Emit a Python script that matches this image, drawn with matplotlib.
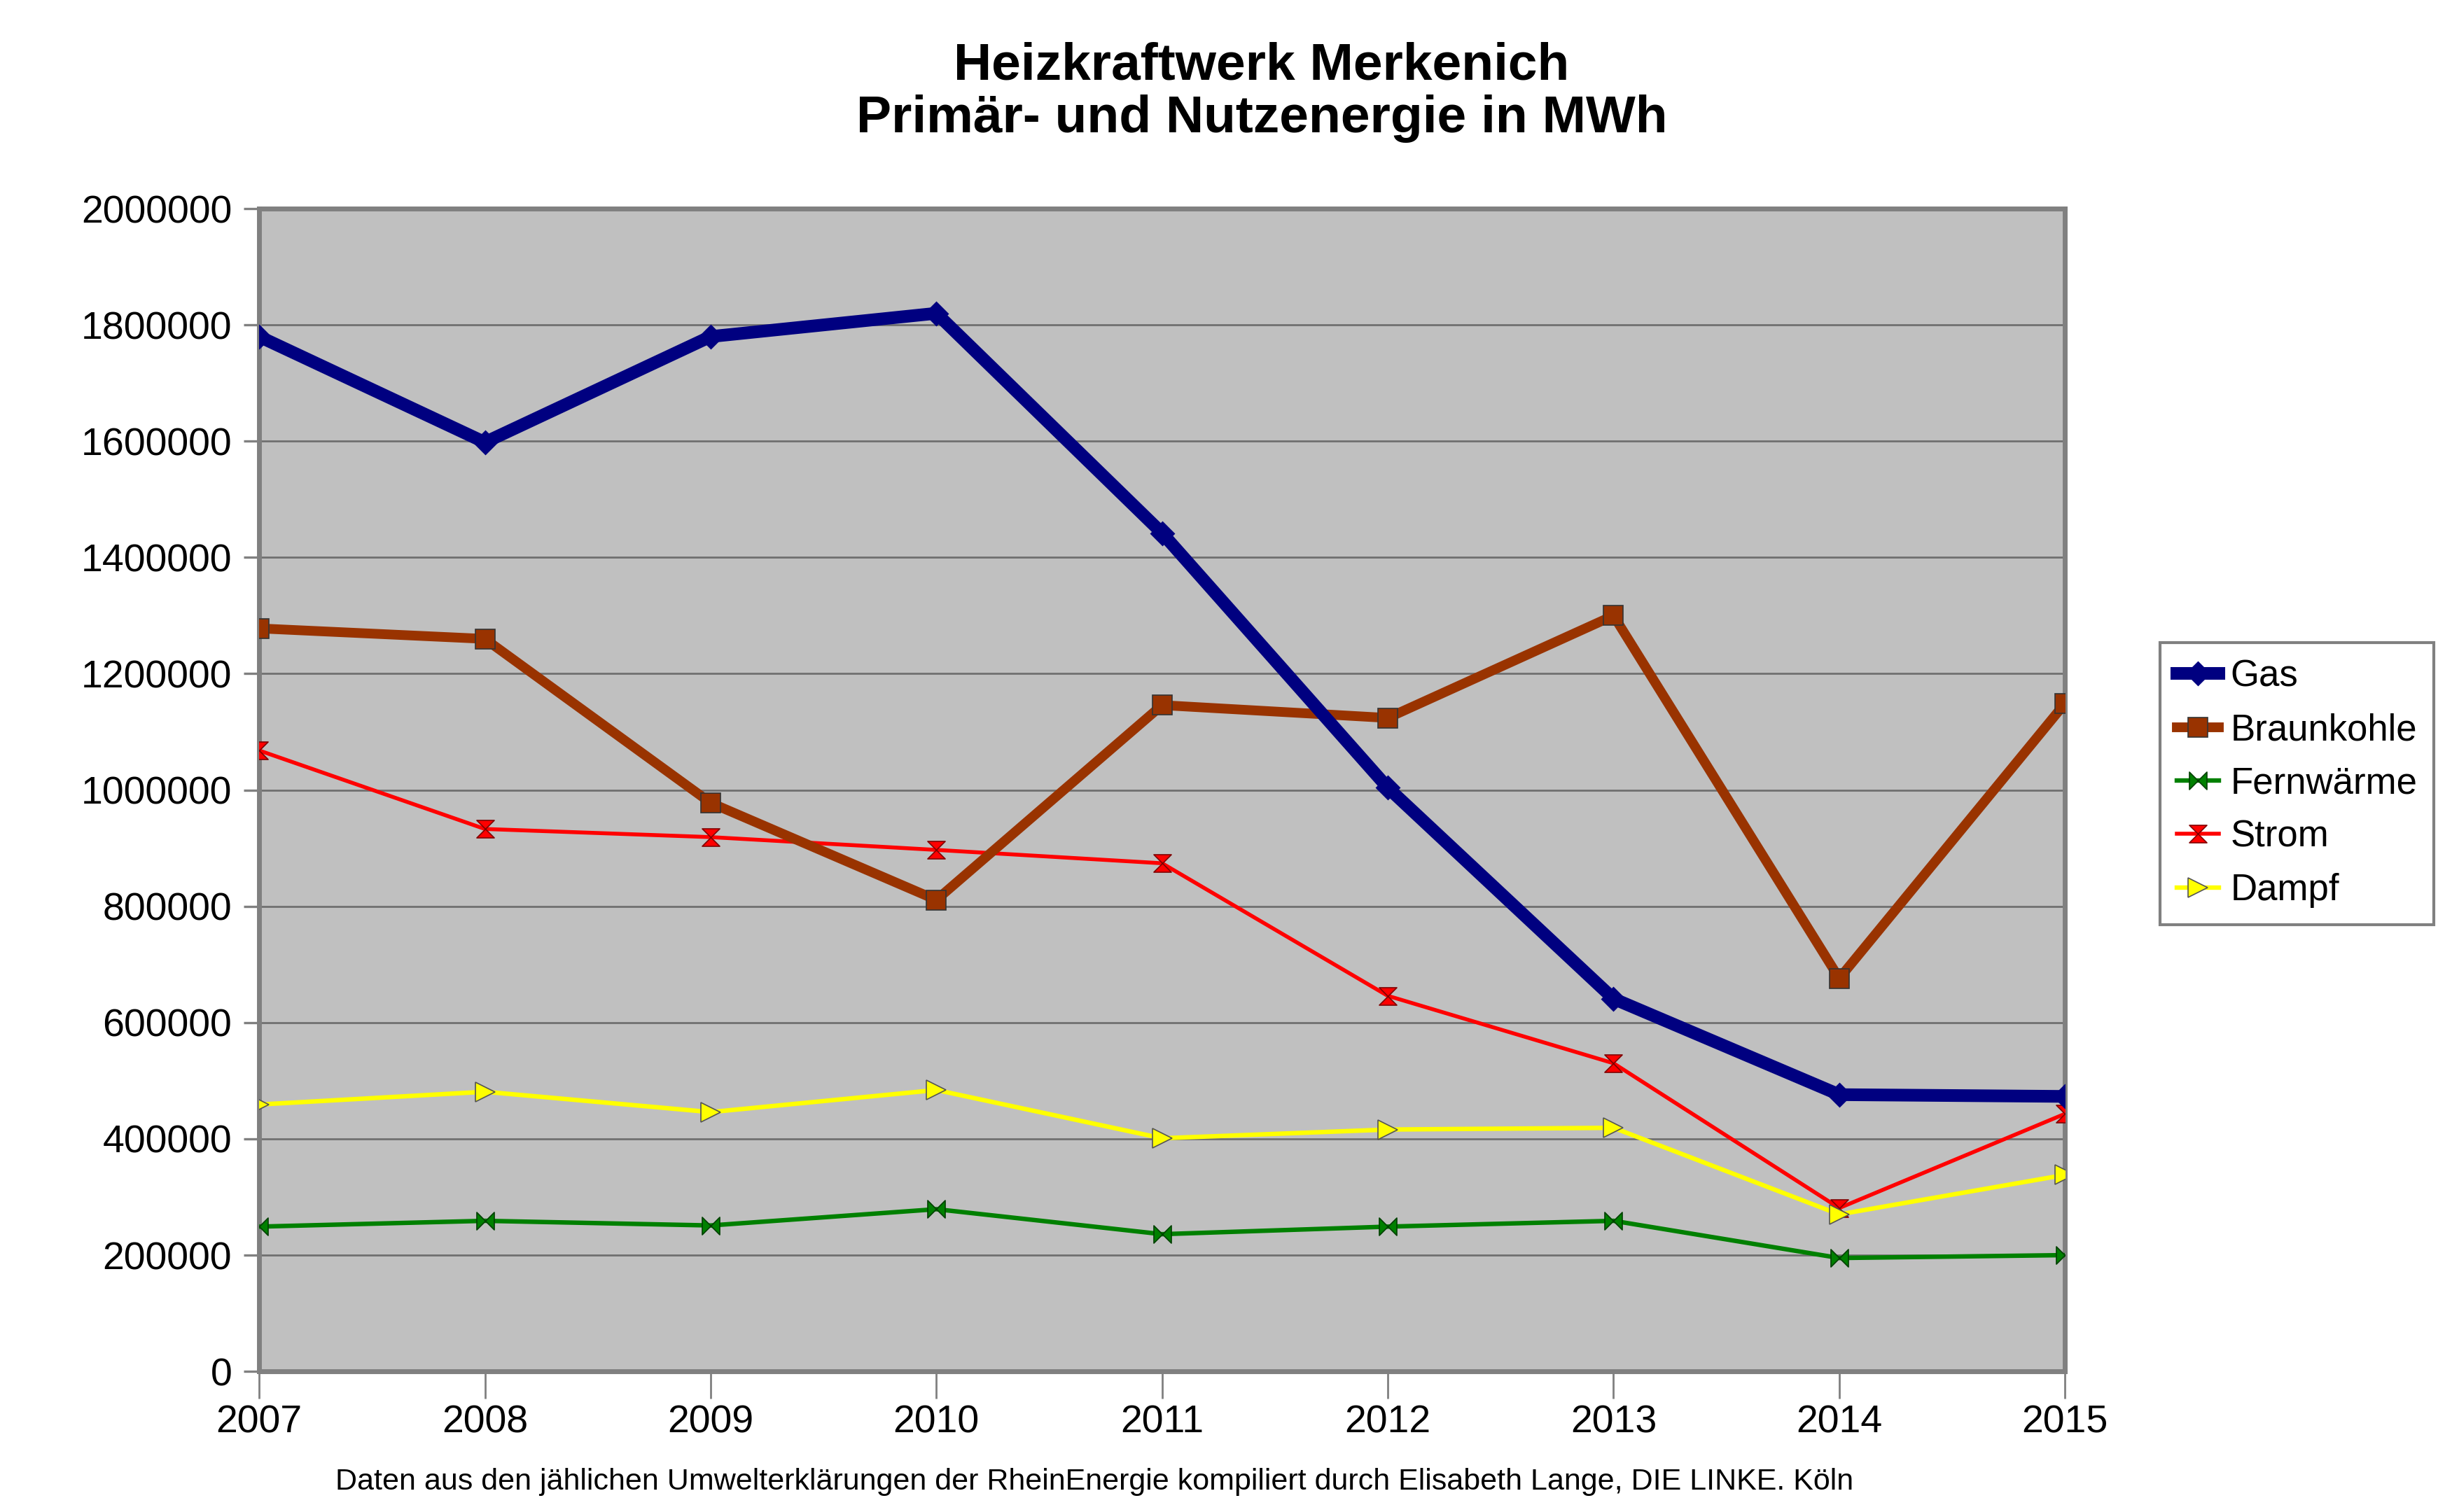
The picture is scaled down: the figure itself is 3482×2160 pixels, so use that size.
import matplotlib
matplotlib.use("Agg")
import matplotlib.pyplot as plt
from matplotlib.path import Path
from matplotlib.ticker import FixedLocator

plt.rcParams['font.family'] = ['Liberation Sans', 'DejaVu Sans']

years = [2007, 2008, 2009, 2010, 2011, 2012, 2013, 2014, 2015]
gas = [1780000, 1598000, 1780000, 1820000, 1442000, 1004000, 641000, 476000, 473000]
braunkohle = [1278000, 1260000, 978000, 811000, 1146000, 1124000, 1300000, 676000, 1149000]
fernwaerme = [249000, 259000, 251000, 279000, 236000, 249000, 259000, 195000, 200000]
strom = [1068000, 933000, 919000, 897000, 874000, 646000, 530000, 281000, 443000]
dampf = [459000, 481000, 446000, 484000, 401000, 416000, 419000, 270000, 338000]
yticks = [0, 200000, 400000, 600000, 800000, 1000000, 1200000, 1400000, 1600000, 1800000, 2000000]

# bow tie (horizontal) and hourglass (vertical) markers
bowtie = Path([(-1, -1), (-1, 1), (0, 0), (-1, -1), (1, -1), (1, 1), (0, 0), (1, -1)],
              [Path.MOVETO, Path.LINETO, Path.LINETO, Path.CLOSEPOLY,
               Path.MOVETO, Path.LINETO, Path.LINETO, Path.CLOSEPOLY])
hourglass = Path([(-1, 1), (1, 1), (0, 0), (-1, 1), (-1, -1), (1, -1), (0, 0), (-1, -1)],
                 [Path.MOVETO, Path.LINETO, Path.LINETO, Path.CLOSEPOLY,
                  Path.MOVETO, Path.LINETO, Path.LINETO, Path.CLOSEPOLY])

fig = plt.figure(figsize=(17.41, 10.8), dpi=200)
ax = fig.add_axes([0.1063, 0.093, 0.7407, 0.769])
ax.set_facecolor('#c0c0c0')

ax.plot(years, gas, color='#000080', lw=6.5, marker='D', ms=8,
        mfc='#000080', mec='#000080', label='Gas', zorder=5)
ax.plot(years, braunkohle, color='#993300', lw=5.0, marker='s', ms=10,
        mfc='#993300', mec='#333333', mew=0.6, label='Braunkohle', zorder=4)
ax.plot(years, fernwaerme, color='#008000', lw=2.3, marker=bowtie, ms=9,
        mfc='#008000', mec='#004000', mew=0.6, label='Fernwärme', zorder=3)
ax.plot(years, strom, color='#ff0000', lw=2.0, marker=hourglass, ms=9,
        mfc='#ff0000', mec='#800000', mew=0.6, label='Strom', zorder=3)
ax.plot(years, dampf, color='#ffff00', lw=2.3, marker='>', ms=10,
        mfc='#ffff00', mec='#555555', mew=0.6, label='Dampf', zorder=3)

ax.set_xlim(2007, 2015)
ax.set_ylim(0, 2000000)
ax.yaxis.set_major_locator(FixedLocator(yticks))
ax.set_xticks(years)
ax.set_yticklabels([str(v) for v in yticks], fontsize=20)
ax.set_xticklabels([str(y) for y in years], fontsize=20)
ax.grid(axis='y', color='#707070', lw=1.0)
ax.set_axisbelow(True)
ax.tick_params(axis='y', length=8, width=1.2, color='#808080', pad=6)
ax.tick_params(axis='x', length=14, width=1.0, color='#808080', pad=3)
for s in ax.spines.values():
    s.set_color('#808080')
    s.set_linewidth(2.5)

leg = ax.legend(loc='upper left', bbox_to_anchor=(0.886, 0.575),
                bbox_transform=fig.transFigure, fontsize=19, frameon=True,
                fancybox=False, edgecolor='#808080', framealpha=1,
                borderaxespad=0, handlelength=1.15, labelspacing=0.5,
                borderpad=0.45, handletextpad=0.3)
leg.get_frame().set_linewidth(1.5)

fig.text(0.5175, 0.939, 'Heizkraftwerk Merkenich\nPrimär- und Nutzenergie in MWh',
         ha='center', va='center', fontsize=27, fontweight='bold', linespacing=1.13)
fig.text(0.449, 0.02,
         'Daten aus den jählichen Umwelterklärungen der RheinEnergie kompiliert durch Elisabeth Lange, DIE LINKE. Köln',
         ha='center', va='center', fontsize=15.5)

fig.savefig('out.png', dpi=200)
